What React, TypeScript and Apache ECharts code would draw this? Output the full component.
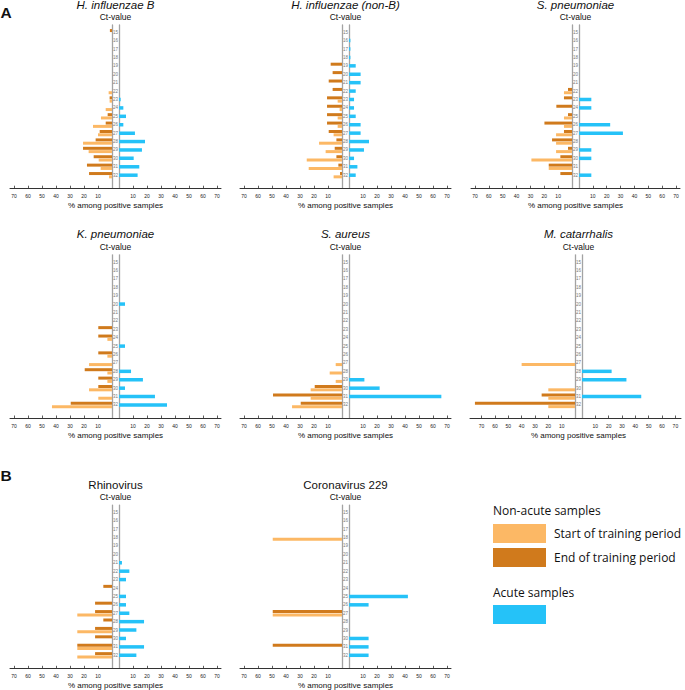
import React, { useEffect, useRef } from 'react';
import * as echarts from 'echarts';

// ---------- data ----------
const ctValues = ['15', '16', '17', '18', '19', '20', '21', '22', '23', '24', '25', '26', '27', '28', '29', '30', '31', '32'];
const xTickValues = [10, 20, 30, 40, 50, 60, 70];

// index order follows ctValues (15 ... 32)
const hiB_end = [1.5, null, null, null, null, null, null, null, 1.7, null, 3.1, 4.5, 8.8, 11.7, 20.7, 13.1, 17.9, 16.4];
const hiB_start = [null, null, null, null, null, null, null, 2.4, 1.7, 4.5, 7.9, 13.6, 10, 20.7, 16.7, 9.5, 8.1, 2.1];
const hiB_acute = [null, null, null, null, null, null, null, null, 1.2, 3.1, 5, 3.1, 11.4, 18.6, 16.4, 10.5, 14.5, 13.3];

const hnB_end = [null, null, null, null, 8.1, 6.7, 9.5, 6.7, 10.7, 10.7, 10.7, 10.7, 9.5, 4, 5.2, 4, 2.6, 1.4];
const hnB_start = [null, null, null, null, null, null, null, null, 3.1, 1.7, 3.1, 3.1, 6, 16.4, 11.7, 25.2, 23.8, 6];
const hnB_acute = [null, 1, 1, 1, 4.8, 8.3, 8.3, 4.8, 3.6, 3.6, 4.8, 8.3, 8.3, 14.3, 10.7, 3.6, 6, 4.8];

const spn_end = [null, null, null, null, null, null, null, 2.9, 5.8, 11.3, 2.9, 19.9, 5.8, 14.4, 2.9, 8.4, 16.8, 8.4];
const spn_start = [null, null, null, null, null, null, null, 5.8, null, null, 5.8, 5.8, 11.5, 11.5, 11.5, 29.3, 16.8, null];
const spn_acute = [null, null, null, null, null, null, null, null, 8.9, 8.9, null, 22.5, 31.7, null, 8.9, 8.9, null, 8.9];

const kpn_end = [null, null, null, null, null, null, null, null, 9.8, 9.8, null, 9.8, null, 19.5, 9.8, 9.8, null, 29.5];
const kpn_start = [null, null, null, null, null, null, null, null, null, 3.3, null, 3.3, 16.4, 3.3, 3.3, 16.4, 9.8, 42.9];
const kpn_acute = [null, null, null, null, null, 4.3, null, null, null, null, 4.3, null, null, 8.6, 17.1, 4.3, 25.7, 34.3];

const sau_end = [null, null, null, null, null, null, null, null, null, null, null, null, null, null, null, 19.5, 49.3, 29.5];
const sau_start = [null, null, null, null, null, null, null, null, null, null, null, null, 4.5, 8.8, 4.5, 22.4, 22.4, 35.7];
const sau_acute = [null, null, null, null, null, null, null, null, null, null, null, null, null, null, 11, 21.9, 66, null];

const mca_end = [null, null, null, null, null, null, null, null, null, null, null, null, null, null, null, null, 25, 75];
const mca_start = [null, null, null, null, null, null, null, null, null, null, null, null, 40, null, null, 20, 20, 20];
const mca_acute = [null, null, null, null, null, null, null, null, null, null, null, null, null, 22.2, 33.3, null, 44.4, null];

const rhv_end = [null, null, null, null, null, null, null, null, null, 6.2, null, 12.1, 12.1, 6.2, 12.1, 12.1, 24.8, 12.1];
const rhv_start = [null, null, null, null, null, null, null, null, null, null, null, null, 24.8, null, 24.8, null, 24.8, 24.8];
const rhv_acute = [null, null, null, null, null, null, 2.1, 7.4, 5, null, 5, 5, 7.4, 17.9, 12.4, 5, 17.9, 12.4];

const cov_end = [null, null, null, null, null, null, null, null, null, null, null, null, 49.5, null, null, null, 49.5, null];
const cov_start = [null, null, null, 49.5, null, null, null, null, null, null, null, null, 49.5, null, null, null, null, null];
const cov_acute = [null, null, null, null, null, null, null, null, null, null, 42.1, 14, null, null, null, 14, 14, 14];

const panelTitles = ['H. influenzae B', 'H. influenzae (non-B)', 'S. pneumoniae', 'K. pneumoniae', 'S. aureus', 'M. catarrhalis', 'Rhinovirus', 'Coronavirus 229'];
const panelItalic = [true, true, true, true, true, true, false, false];
const panelStart = [hiB_start, hnB_start, spn_start, kpn_start, sau_start, mca_start, rhv_start, cov_start];
const panelEnd = [hiB_end, hnB_end, spn_end, kpn_end, sau_end, mca_end, rhv_end, cov_end];
const panelAcute = [hiB_acute, hnB_acute, spn_acute, kpn_acute, sau_acute, mca_acute, rhv_acute, cov_acute];

const START_NAME = 'Start of training period';
const END_NAME = 'End of training period';
const ACUTE_NAME = 'Acute samples';

// ---------- layout / style ----------
const layouts = [
  { lz: 112, rz: 119, lEnd: 10, rEnd: 221, lMax: 72.9, rMax: 72.9, base: 32.2 },
  { lz: 342, rz: 349, lEnd: 240, rEnd: 451, lMax: 72.9, rMax: 72.9, base: 32.2 },
  { lz: 572, rz: 579, lEnd: 471, rEnd: 680, lMax: 72.9, rMax: 72.9, base: 32.2 },
  { lz: 112, rz: 119, lEnd: 10, rEnd: 221, lMax: 72.9, rMax: 72.9, base: 262 },
  { lz: 342, rz: 349, lEnd: 240, rEnd: 451, lMax: 72.9, rMax: 72.9, base: 262 },
  { lz: 575, rz: 582, lEnd: 470, rEnd: 681, lMax: 78.7, rMax: 74.2, base: 262 },
  { lz: 112, rz: 119, lEnd: 10, rEnd: 221, lMax: 72.9, rMax: 72.9, base: 512.3 },
  { lz: 342, rz: 349, lEnd: 240, rEnd: 451, lMax: 72.9, rMax: 72.9, base: 512.3 },
];

const FONT = '"Liberation Sans", Arial, Helvetica, sans-serif';
const LEG_FONT = '"Open Sans", "Noto Sans", sans-serif';
const LIGHT = '#FCB865';
const DARK = '#D07A1C';
const BLUE = '#25C2F8';
const CENTER_LINE = '#a3a3a3';

function buildOption() {
  const grid: any[] = [];
  const xAxis: any[] = [];
  const yAxis: any[] = [];
  const series: any[] = [];
  const graphic: any[] = [];

  panelTitles.forEach((title, i) => {
    const L = layouts[i];
    const gTop = L.base - 4.2;
    const gH = 151.4;
    const fTop = L.base - 7.2;
    const fH = 163.2;
    const axOffset = fTop + fH - (gTop + gH);
    const gi = grid.length;
    grid.push({ left: L.lEnd, top: gTop, width: L.lz - L.lEnd, height: gH, outerBoundsMode: 'none' });
    grid.push({ left: L.rz, top: gTop, width: L.rEnd - L.rz, height: gH, outerBoundsMode: 'none' });
    grid.push({ left: L.lz, top: fTop, width: L.rz - L.lz, height: fH, outerBoundsMode: 'none' });

    const valueX = (gridIndex: number, inverse: boolean, max: number) => ({
      type: 'value',
      gridIndex,
      inverse,
      min: 0,
      max,
      interval: 10,
      position: 'bottom',
      offset: axOffset,
      splitLine: { show: false },
      axisLine: { show: true, onZero: false, lineStyle: { color: '#333', width: 1 } },
      axisTick: { show: true, inside: true, length: 2.5, customValues: xTickValues, lineStyle: { color: '#333', width: 0.8 } },
      axisLabel: {
        customValues: xTickValues,
        fontSize: 5,
        margin: 5.5,
        color: '#222',
        fontFamily: FONT,
        formatter: (v: number) => (v > 0 && v % 10 === 0 ? String(v) : ''),
      },
    });
    const xi = xAxis.length;
    xAxis.push(valueX(gi, true, L.lMax));
    xAxis.push(valueX(gi + 1, false, L.rMax));
    xAxis.push({
      type: 'value',
      gridIndex: gi + 2,
      min: 0,
      max: 1,
      position: 'bottom',
      name: '% among positive samples',
      nameLocation: 'middle',
      nameGap: 13.5,
      nameTextStyle: { fontSize: 8, color: '#111', fontFamily: FONT },
      axisLine: { show: true, onZero: false, lineStyle: { color: '#333', width: 1 } },
      axisTick: { show: false },
      axisLabel: { show: false },
      splitLine: { show: false },
    });

    const yi = yAxis.length;
    yAxis.push({
      type: 'category',
      gridIndex: gi,
      data: ctValues,
      inverse: true,
      position: 'right',
      axisLine: { show: false, onZero: false },
      axisTick: { show: false },
      splitLine: { show: false },
      axisLabel: { interval: 0, fontSize: 4.5, color: '#777', margin: 3.5, align: 'center', fontFamily: FONT },
    });
    yAxis.push({ type: 'category', gridIndex: gi + 1, data: ctValues, inverse: true, show: false });
    const frameY = (position: string) => ({
      type: 'value',
      gridIndex: gi + 2,
      min: 0,
      max: 1,
      position,
      axisLine: { show: true, onZero: false, lineStyle: { color: CENTER_LINE, width: 1.3 } },
      axisTick: { show: false },
      axisLabel: { show: false },
      splitLine: { show: false },
    });
    yAxis.push(frameY('left'));
    yAxis.push(frameY('right'));

    series.push({
      type: 'bar',
      name: END_NAME,
      xAxisIndex: xi,
      yAxisIndex: yi,
      data: panelEnd[i],
      barWidth: 3,
      barGap: '10%',
      itemStyle: { color: DARK },
    });
    series.push({
      type: 'bar',
      name: START_NAME,
      xAxisIndex: xi,
      yAxisIndex: yi,
      data: panelStart[i],
      barWidth: 3,
      barGap: '10%',
      itemStyle: { color: LIGHT },
    });
    series.push({
      type: 'bar',
      name: ACUTE_NAME,
      xAxisIndex: xi + 1,
      yAxisIndex: yi + 1,
      data: panelAcute[i],
      barWidth: 3.5,
      itemStyle: { color: BLUE },
    });

    const cx = (L.lz + L.rz) / 2;
    graphic.push({
      type: 'text',
      x: cx,
      y: L.base - 27.7,
      style: {
        text: title,
        fontSize: 11.5,
        fontFamily: FONT,
        fontStyle: panelItalic[i] ? 'italic' : 'normal',
        fill: '#111',
        align: 'center',
        verticalAlign: 'middle',
        textAlign: 'center',
        textVerticalAlign: 'middle',
      },
    });
    graphic.push({
      type: 'text',
      x: cx,
      y: L.base - 14.9,
      style: {
        text: 'Ct-value',
        fontSize: 8.5,
        fontFamily: FONT,
        fill: '#111',
        align: 'center',
        verticalAlign: 'middle',
        textAlign: 'center',
        textVerticalAlign: 'middle',
      },
    });
  });

  const leftText = (text: string, x: number, y: number, fontSize: number, fontFamily: string, fontWeight = 'normal') => ({
    type: 'text',
    x,
    y,
    style: {
      text,
      fontSize,
      fontFamily,
      fontWeight,
      fill: '#111',
      align: 'left',
      verticalAlign: 'middle',
      textAlign: 'left',
      textVerticalAlign: 'middle',
    },
  });
  graphic.push(leftText('A', 0.5, 12.8, 15.5, FONT, 'bold'));
  graphic.push(leftText('B', 0.5, 475.8, 15.5, FONT, 'bold'));
  graphic.push(leftText('Non-acute samples', 493, 510, 12, LEG_FONT));
  graphic.push(leftText('Acute samples', 493, 592, 12, LEG_FONT));

  return {
    animation: false,
    backgroundColor: '#ffffff',
    grid,
    xAxis,
    yAxis,
    series,
    graphic,
    legend: [
      {
        data: [START_NAME, END_NAME],
        orient: 'vertical',
        left: 493,
        top: 524,
        padding: 0,
        itemWidth: 53,
        itemHeight: 19,
        itemGap: 5,
        icon: 'rect',
        selectedMode: false,
        textStyle: { fontFamily: LEG_FONT, fontSize: 12, color: '#111', padding: [0, 0, 0, 3] },
      },
      {
        data: [ACUTE_NAME],
        orient: 'vertical',
        left: 493,
        top: 605,
        padding: 0,
        itemWidth: 53,
        itemHeight: 19,
        icon: 'rect',
        selectedMode: false,
        formatter: () => '',
        textStyle: { fontFamily: LEG_FONT, fontSize: 12, color: '#111' },
      },
    ],
  };
}

export default function App() {
  const ref = useRef<HTMLDivElement>(null);
  useEffect(() => {
    document.body.style.margin = '0';
    if (!ref.current) return;
    const chart = echarts.init(ref.current, undefined, { renderer: 'svg' });
    chart.setOption(buildOption() as any);
    return () => {
      chart.dispose();
    };
  }, []);
  return <div ref={ref} style={{ position: 'absolute', left: 0, top: 0, width: 685, height: 690 }} />;
}
